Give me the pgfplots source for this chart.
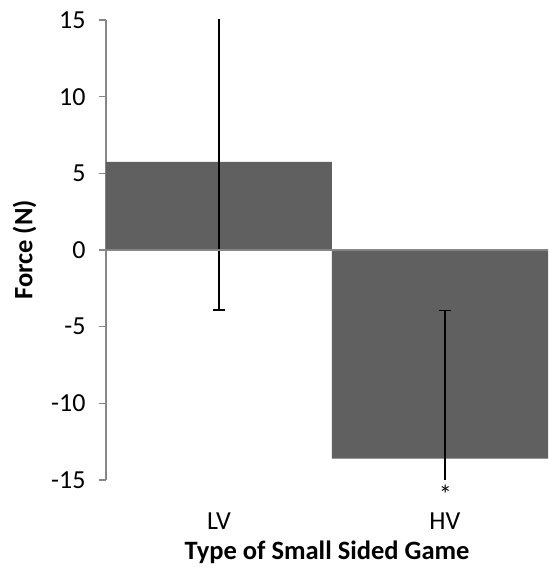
\documentclass[border=0pt]{standalone}
\usepackage{pgfplots}
\pgfplotsset{compat=1.18}
\usetikzlibrary{calc}
\usepackage{fontspec}
\setmainfont{Carlito}
\definecolor{barfill}{HTML}{606060}
\definecolor{axgray}{HTML}{868686}
\begin{document}
\begin{tikzpicture}
\begin{axis}[
  name=ax,
  scale only axis,
  width=442pt, height=460pt,
  xmin=-0.5, xmax=1.456,
  ymin=-15, ymax=15,
  ytick={-15,-10,-5,0,5,10,15},
  xtick={0,1}, xticklabels={LV,HV},
  axis y line*=left, axis x line*=bottom,
  x axis line style={draw=none},
  xtick style={draw=none},
  y axis line style={axgray, line width=1.5pt},
  ytick style={axgray, line width=1.5pt},
  tick align=outside, major tick length=7pt,
  tick label style={font=\fontsize{26}{31}\selectfont},
  /pgf/number format/assume math mode=true,
  xticklabel style={inner sep=0pt, yshift=-26pt},
  yticklabel style={xshift=-10pt},
  ylabel={\textbf{Force (N)}},
  xlabel={\textbf{Type of Small Sided Game}},
  label style={font=\fontsize{26.5}{31}\selectfont},
  ylabel style={yshift=8pt},
  xlabel style={yshift=-7pt},
  clip=true,
]
\addplot[ybar, bar width=1, fill=barfill, draw=none, forget plot] coordinates {(0,5.74) (1,-13.6)};
% LV upper part (no cap)
\addplot[ybar, bar width=1, fill=none, draw=none, forget plot,
  error bars/.cd, y dir=plus, y explicit, error mark=none,
  error bar style={line width=1.5pt, draw=black}]
  coordinates {(0,5.74) +- (0,9.7)};
% LV lower part with cap
\addplot[ybar, bar width=1, fill=none, draw=none, forget plot,
  error bars/.cd, y dir=minus, y explicit, error mark=-,
  error bar style={line width=1.5pt, draw=black},
  error mark options={rotate=90, draw=black, line width=1.5pt, mark size=6pt}]
  coordinates {(0,5.74) +- (0,9.64)};
% HV upper part with cap
\addplot[ybar, bar width=1, fill=none, draw=none, forget plot,
  error bars/.cd, y dir=plus, y explicit, error mark=-,
  error bar style={line width=1.5pt, draw=black},
  error mark options={rotate=90, draw=black, line width=1.5pt, mark size=6pt}]
  coordinates {(1,-13.6) +- (0,9.65)};
% HV lower part (no cap)
\addplot[ybar, bar width=1, fill=none, draw=none, forget plot,
  error bars/.cd, y dir=minus, y explicit, error mark=none,
  error bar style={line width=1.5pt, draw=black}]
  coordinates {(1,-13.6) +- (0,9.65)};
\draw[axgray, line width=1.5pt] (axis cs:-0.5,0) -- (axis cs:1.456,0);
\end{axis}
\node[anchor=north, font=\fontsize{26}{28}\selectfont, inner sep=0pt] at ($(ax.south west)!0.7676!(ax.south east)+(0,-5pt)$) {*};
\pgfresetboundingbox
\path ([shift={(-106pt,-89pt)}]ax.south west) rectangle ([shift={(0pt,20pt)}]ax.north east);
\end{tikzpicture}
\end{document}
